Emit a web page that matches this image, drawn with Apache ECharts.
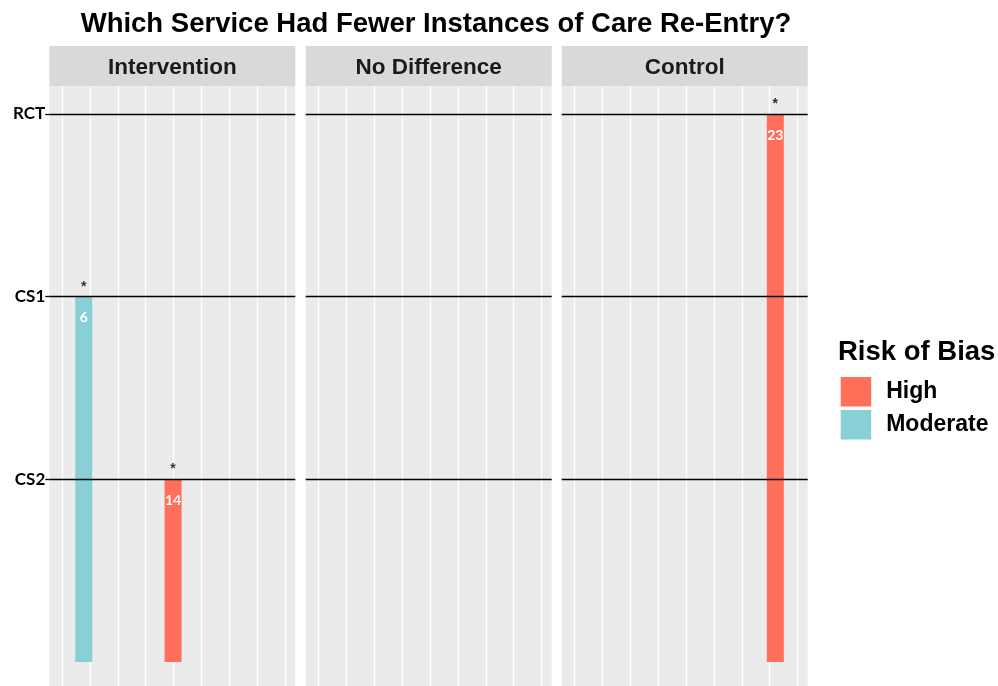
<!DOCTYPE html>
<html>
<head>
<meta charset="utf-8">
<script src="https://cdn.jsdelivr.net/npm/echarts@6/dist/echarts.min.js"></script>
<style>html,body{margin:0;padding:0;background:#fff}#c{width:998px;height:686px}</style>
</head>
<body>
<div id="c"></div>
<script>
// ---- data ----
const chartTitle = 'Which Service Had Fewer Instances of Care Re-Entry?';
const facets = ['Intervention', 'No Difference', 'Control'];
const designLevels = ['CS2', 'CS1', 'RCT'];          // y = 1, 2, 3
const gridBreaks = [1, 2, 3, 4, 5, 6, 7, 8, 9];
const riskLevels = ['High', 'Moderate'];
const riskColors = ['#FF6F59', '#88CFD8'];
const legendTitle = 'Risk of Bias';

const studyFacet  = ['Intervention', 'Intervention', 'Control'];
const studyX      = [1.78, 4.98, 8.2];
const studyDesign = ['CS1', 'CS2', 'RCT'];
const studyN      = [6, 14, 23];
const studyRisk   = ['Moderate', 'High', 'High'];
const studyStar   = ['*', '*', '*'];

// ---- layout ----
const panelLeft = [49.3, 305.7, 561.7];
const panelW = 246;
const panelTop = 86, panelH = 600;
const stripTop = 46, stripH = 40;
const yMin = -0.1314, yMax = 3.1533;
const xMin = 0.545, xMax = 9.36;

const grids = [], xAxes = [], yAxes = [], series = [], graphics = [];

facets.forEach((f, i) => {
  grids.push({left: panelLeft[i], top: panelTop, width: panelW, height: panelH,
    show: true, backgroundColor: '#EBEBEB', borderWidth: 0, containLabel: false});
  xAxes.push({type: 'value', gridIndex: i, min: xMin, max: xMax,
    axisLine: {show: false}, axisTick: {show: false}, axisLabel: {show: false}, splitLine: {show: false}});
  yAxes.push({type: 'value', gridIndex: i, min: yMin, max: yMax,
    axisLine: {show: false}, splitLine: {show: false},
    axisTick: {show: i === 0, length: 4, customValues: [1, 2, 3], lineStyle: {color: '#000', width: 1.3}},
    axisLabel: {show: i === 0, customValues: [1, 2, 3], margin: 4,
      formatter: v => designLevels[Math.round(v) - 1] || '',
      color: '#000', fontFamily: 'Lato', fontWeight: 'bold', fontSize: 17}});

  // white vertical grid lines
  series.push({type: 'line', xAxisIndex: i, yAxisIndex: i, data: [], z: 1, silent: true,
    markLine: {silent: true, z: 1, symbol: ['none', 'none'], label: {show: false}, animation: false,
      lineStyle: {color: '#FFFFFF', width: 1.3, type: 'solid'},
      data: gridBreaks.map(b => ({xAxis: b}))}});

  // bars by risk level
  riskLevels.forEach((r, k) => {
    const data = [];
    studyFacet.forEach((sf, j) => {
      if (sf === f && studyRisk[j] === r) {
        data.push({value: [studyX[j], designLevels.indexOf(studyDesign[j]) + 1], n: studyN[j]});
      }
    });
    series.push({type: 'bar', name: r, xAxisIndex: i, yAxisIndex: i, data: data,
      barWidth: 17, barGap: '-100%', z: 3,
      itemStyle: {color: riskColors[k]},
      label: {show: true, position: 'insideTop', distance: 14, color: '#fff',
        fontFamily: 'Lato', fontWeight: 'bold', fontSize: 14,
        formatter: p => String(p.data.n)}});
  });

  // asterisks
  const stars = [];
  studyFacet.forEach((sf, j) => {
    if (sf === f) stars.push({value: [studyX[j], designLevels.indexOf(studyDesign[j]) + 1], s: studyStar[j]});
  });
  series.push({type: 'scatter', xAxisIndex: i, yAxisIndex: i, data: stars, symbolSize: 0, z: 6, silent: true,
    label: {show: true, position: 'top', distance: 3, color: '#000', fontSize: 14, fontWeight: 'bold',
      fontFamily: 'Liberation Sans', formatter: p => p.data.s}});

  // black level lines
  series.push({type: 'line', xAxisIndex: i, yAxisIndex: i, data: [], z: 5, silent: true,
    markLine: {silent: true, z: 5, symbol: ['none', 'none'], label: {show: false}, animation: false,
      lineStyle: {color: '#000000', width: 1.4, type: 'solid'},
      data: [1, 2, 3].map(v => ({yAxis: v}))}});

  // strip
  graphics.push({type: 'rect', left: panelLeft[i], top: stripTop,
    shape: {width: panelW, height: stripH}, style: {fill: '#D9D9D9'}});
  graphics.push({type: 'text', x: panelLeft[i] + panelW / 2, y: stripTop + stripH / 2 + 2,
    style: {text: f, align: 'center', verticalAlign: 'middle', fill: '#1A1A1A',
      font: 'bold 22.5px "Liberation Sans", Arial, sans-serif'}});
});

graphics.push({type: 'text', x: 838, y: 352,
  style: {text: legendTitle, align: 'left', verticalAlign: 'middle', fill: '#000',
    font: 'bold 27.5px "Liberation Sans", Arial, sans-serif'}});

const option = {
  animation: false,
  backgroundColor: '#fff',
  title: {text: chartTitle, left: 431, top: 5, textAlign: 'center',
    textStyle: {fontFamily: 'Liberation Sans', fontWeight: 'bold', fontSize: 27.5, color: '#000'}},
  legend: {data: riskLevels, orient: 'vertical', left: 835.7, top: 372,
    itemWidth: 30.5, itemHeight: 29.5, itemGap: 3.5, icon: 'rect', selectedMode: false,
    textStyle: {fontFamily: 'Liberation Sans', fontWeight: 'bold', fontSize: 23, color: '#000',
      padding: [0, 0, 0, 10]}},
  grid: grids,
  xAxis: xAxes,
  yAxis: yAxes,
  series: series,
  graphic: graphics
};

echarts.init(document.getElementById('c'), null, {renderer: 'canvas'}).setOption(option);
</script>
</body>
</html>
